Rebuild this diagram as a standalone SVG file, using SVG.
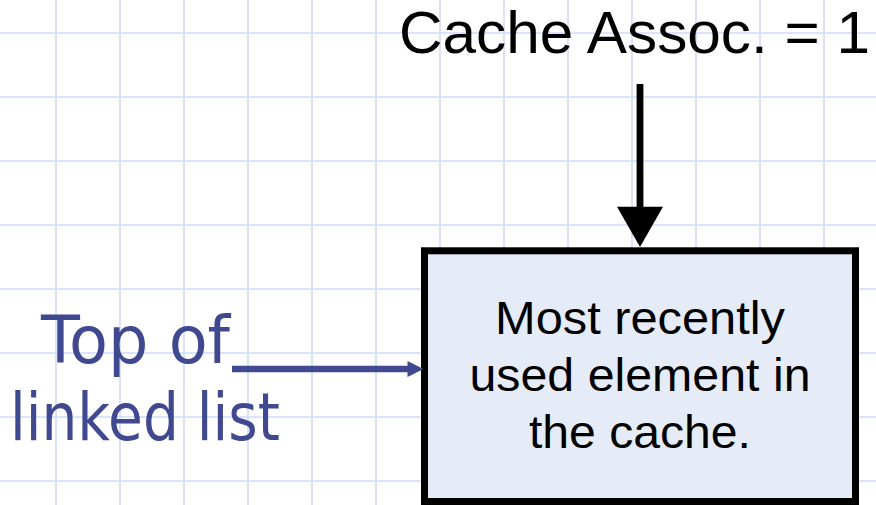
<svg xmlns="http://www.w3.org/2000/svg" width="876" height="505" viewBox="0 0 876 505">
<defs>
<style>
.grid line{stroke:#cfdbf8;stroke-width:1.6}
.lbl{font-family:"Liberation Sans",Arial,sans-serif;fill:#000}
.blue{font-family:"DejaVu Sans",Verdana,sans-serif;fill:#404890;font-size:66px}
</style>
</defs>
<rect width="876" height="505" fill="#ffffff"/>
<g class="grid">
<line x1="56" y1="0" x2="56" y2="505"/><line x1="120" y1="0" x2="120" y2="505"/><line x1="184" y1="0" x2="184" y2="505"/><line x1="248" y1="0" x2="248" y2="505"/><line x1="312" y1="0" x2="312" y2="505"/><line x1="376" y1="0" x2="376" y2="505"/><line x1="440" y1="0" x2="440" y2="505"/><line x1="504" y1="0" x2="504" y2="505"/><line x1="568" y1="0" x2="568" y2="505"/><line x1="632" y1="0" x2="632" y2="505"/><line x1="696" y1="0" x2="696" y2="505"/><line x1="760" y1="0" x2="760" y2="505"/><line x1="824" y1="0" x2="824" y2="505"/>
<line x1="0" y1="33" x2="876" y2="33"/><line x1="0" y1="97" x2="876" y2="97"/><line x1="0" y1="161" x2="876" y2="161"/><line x1="0" y1="225" x2="876" y2="225"/><line x1="0" y1="289" x2="876" y2="289"/><line x1="0" y1="353" x2="876" y2="353"/><line x1="0" y1="417" x2="876" y2="417"/><line x1="0" y1="481" x2="876" y2="481"/>
</g>
<g id="label-assoc">
<text class="lbl" x="399" y="52.5" font-size="60" textLength="471" lengthAdjust="spacingAndGlyphs">Cache Assoc. = 1</text>
</g>
<g id="label-top">
<text class="blue" x="41" y="363" textLength="189" lengthAdjust="spacingAndGlyphs">Top of</text>
<text class="blue" x="10" y="440" textLength="270" lengthAdjust="spacingAndGlyphs">linked list</text>
</g>
<g id="node-mru">
<rect x="424.5" y="250.8" width="431" height="250.7" fill="#e5ecf7" stroke="#000" stroke-width="7"/>
<text class="lbl" x="640" y="334" font-size="46" text-anchor="middle" textLength="290" lengthAdjust="spacingAndGlyphs">Most recently</text>
<text class="lbl" x="640" y="391" font-size="46" text-anchor="middle" textLength="341" lengthAdjust="spacingAndGlyphs">used element in</text>
<text class="lbl" x="640" y="448" font-size="46" text-anchor="middle" textLength="222" lengthAdjust="spacingAndGlyphs">the cache.</text>
</g>
<g id="connectors">
<line x1="640" y1="84" x2="640" y2="210" stroke="#000" stroke-width="6.8"/>
<polygon points="617,206.7 663,206.7 640,247" fill="#000"/>
<line x1="232" y1="369" x2="410" y2="369" stroke="#404890" stroke-width="6.5"/>
<polygon points="407.5,361 407.5,377 423.5,369" fill="#404890"/>
</g>
</svg>
